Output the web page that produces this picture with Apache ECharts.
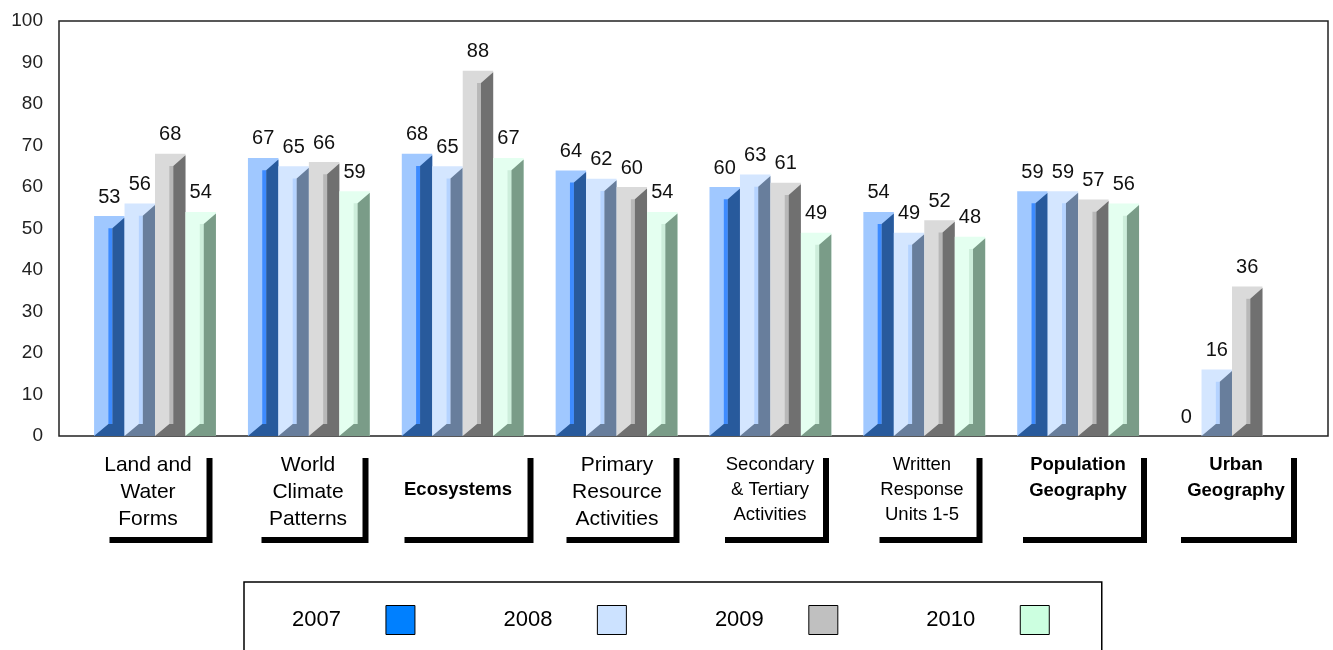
<!DOCTYPE html>
<html><head><meta charset="utf-8">
<script src="https://cdn.jsdelivr.net/npm/echarts@6/dist/echarts.min.js"></script>
<style>html,body{margin:0;padding:0;background:#fff}#c{width:1333px;height:650px}</style>
</head><body><div id="c"></div>
<script>
// ---- data ----
const categories = ['Land and\nWater\nForms', 'World\nClimate\nPatterns', 'Ecosystems', 'Primary\nResource\nActivities', 'Secondary\n& Tertiary\nActivities', 'Written\nResponse\nUnits 1-5', 'Population\nGeography', 'Urban\nGeography'];
const years = ['2007', '2008', '2009', '2010'];
const v2007 = [53, 67, 68, 64, 60, 54, 59, 0];
const v2008 = [56, 65, 65, 62, 63, 49, 59, 16];
const v2009 = [68, 66, 88, 60, 61, 52, 57, 36];
const v2010 = [54, 59, 67, 54, 49, 48, 56, null];
const yMin = 0, yMax = 100, yStep = 10;

// ---- styles ----
const FONT = "'Liberation Sans', Arial, Helvetica, sans-serif";
const palette = [
  { legend: '#0080ff', light: '#a0c8ff', strip: '#3d8bff', dark: '#285a9c' },
  { legend: '#cce2ff', light: '#d4e6ff', strip: '#b5d3ff', dark: '#687e9c' },
  { legend: '#c0c0c0', light: '#dadada', strip: '#b8b8b8', dark: '#707070' },
  { legend: '#ccffe0', light: '#e4fff0', strip: '#cdeedb', dark: '#7a9c88' }
];
const labelStyles = [
  { fontSize: 21, lineHeight: 27, width: 89, height: 85, padding: [0, 14, 0, 0] },
  { fontSize: 21, lineHeight: 27, width: 105, height: 85, padding: [0, 2, 0, 0] },
  { fontSize: 18.5, fontWeight: 'bold', lineHeight: 26, width: 119, height: 60, padding: [25, 10, 0, 0] },
  { fontSize: 21, lineHeight: 27, width: 113, height: 85, padding: [0, 0, 0, 0] },
  { fontSize: 18.5, lineHeight: 25, width: 102, height: 85, padding: [0, 2, 0, 0] },
  { fontSize: 18.5, lineHeight: 25, width: 97, height: 85, padding: [0, 6, 0, 0] },
  { fontSize: 18.5, fontWeight: 'bold', lineHeight: 26, width: 122, height: 85, padding: [0, 2, 0, 0] },
  { fontSize: 18.5, fontWeight: 'bold', lineHeight: 26, width: 110, height: 85, padding: [0, 0, 0, 6] }
];
const BAR = 0.198; // bar width in category units

const seriesValues = [v2007, v2008, v2009, v2010];

function makeRender(k) {
  const c = palette[k];
  return function (params, api) {
    const v = api.value(1);
    if (v == null || isNaN(v)) return;
    const i = api.value(0);
    const x0 = api.coord([i - 2 * BAR + k * BAR, v])[0];
    const x1 = api.coord([i - 2 * BAR + (k + 1) * BAR, v])[0];
    const top = api.coord([i, v])[1];
    const base = api.coord([i, 0])[1];
    const w = x1 - x0, h = base - top;
    const children = [];
    if (h > 0.5) {
      const xm = x0 + 0.47 * w, xs = x0 + 0.6 * w;
      const d = Math.min(x1 - xs, h / 2);
      const d2 = Math.min(12, h / 2);
      children.push({ type: 'rect', shape: { x: x0, y: top, width: w, height: h }, style: { fill: c.light } });
      children.push({ type: 'rect', shape: { x: xm, y: top + d, width: xs - xm, height: Math.max(0, h - d - d2) }, style: { fill: c.strip } });
      children.push({ type: 'polygon', shape: { points: [[xs, top + d], [x1, top + 1.5], [x1, base], [x0, base], [xm, base - d2], [xs, base - d2]] }, style: { fill: c.dark } });
    }
    children.push({ type: 'text', x: (x0 + x1) / 2, y: top - 19, style: { text: String(v), fontSize: 20, fontFamily: FONT, fill: '#111', align: 'center', verticalAlign: 'middle' } });
    return { type: 'group', children: children };
  };
}

const series = years.map(function (name, k) {
  return {
    type: 'custom', name: name, xAxisIndex: 0, yAxisIndex: 0,
    itemStyle: { color: palette[k].legend },
    encode: { x: 0, y: 1 },
    renderItem: makeRender(k),
    data: seriesValues[k].map(function (v, i) { return [i, v]; }).filter(function (d) { return d[1] !== null; })
  };
});

const chart = echarts.init(document.getElementById('c'), null, { renderer: 'canvas' });
chart.setOption({
  animation: false,
  backgroundColor: '#fff',
  grid: [
    { left: 59, right: 5, top: 21, bottom: 214, show: true, borderColor: '#222', borderWidth: 1.5, backgroundColor: 'transparent' },
    { left: 78, right: 23, top: 21, bottom: 214 }
  ],
  xAxis: [
    { type: 'value', gridIndex: 0, min: -0.624, max: 7.624, show: false },
    {
      type: 'category', gridIndex: 1,
      data: categories.map(function (c, i) { return { value: c, textStyle: labelStyles[i] }; }),
      axisLine: { show: false }, axisTick: { show: false }, splitLine: { show: false },
      axisLabel: {
        interval: 0, margin: 16, color: '#000', fontFamily: FONT,
        backgroundColor: '#fff', shadowColor: '#000', shadowBlur: 0, shadowOffsetX: 6, shadowOffsetY: 6
      }
    }
  ],
  yAxis: [
    {
      type: 'value', gridIndex: 0, min: yMin, max: yMax, interval: yStep,
      axisLine: { show: false }, axisTick: { show: false }, splitLine: { show: false },
      axisLabel: { fontSize: 19, color: '#222', margin: 16, fontFamily: FONT }
    },
    { type: 'value', gridIndex: 1, min: yMin, max: yMax, show: false }
  ],
  legend: {
    data: years, left: 244, top: 582, orient: 'horizontal', align: 'right',
    padding: [23, 52, 40, 48], itemGap: 88, itemWidth: 29, itemHeight: 29,
    icon: 'rect', selectedMode: false,
    borderColor: '#000', borderWidth: 1.5,
    itemStyle: { borderColor: '#000', borderWidth: 1 },
    textStyle: { fontSize: 22, color: '#000', fontFamily: FONT, width: 51, padding: [0, 40, 0, 0] }
  },
  series: series
});
</script>
</body></html>
